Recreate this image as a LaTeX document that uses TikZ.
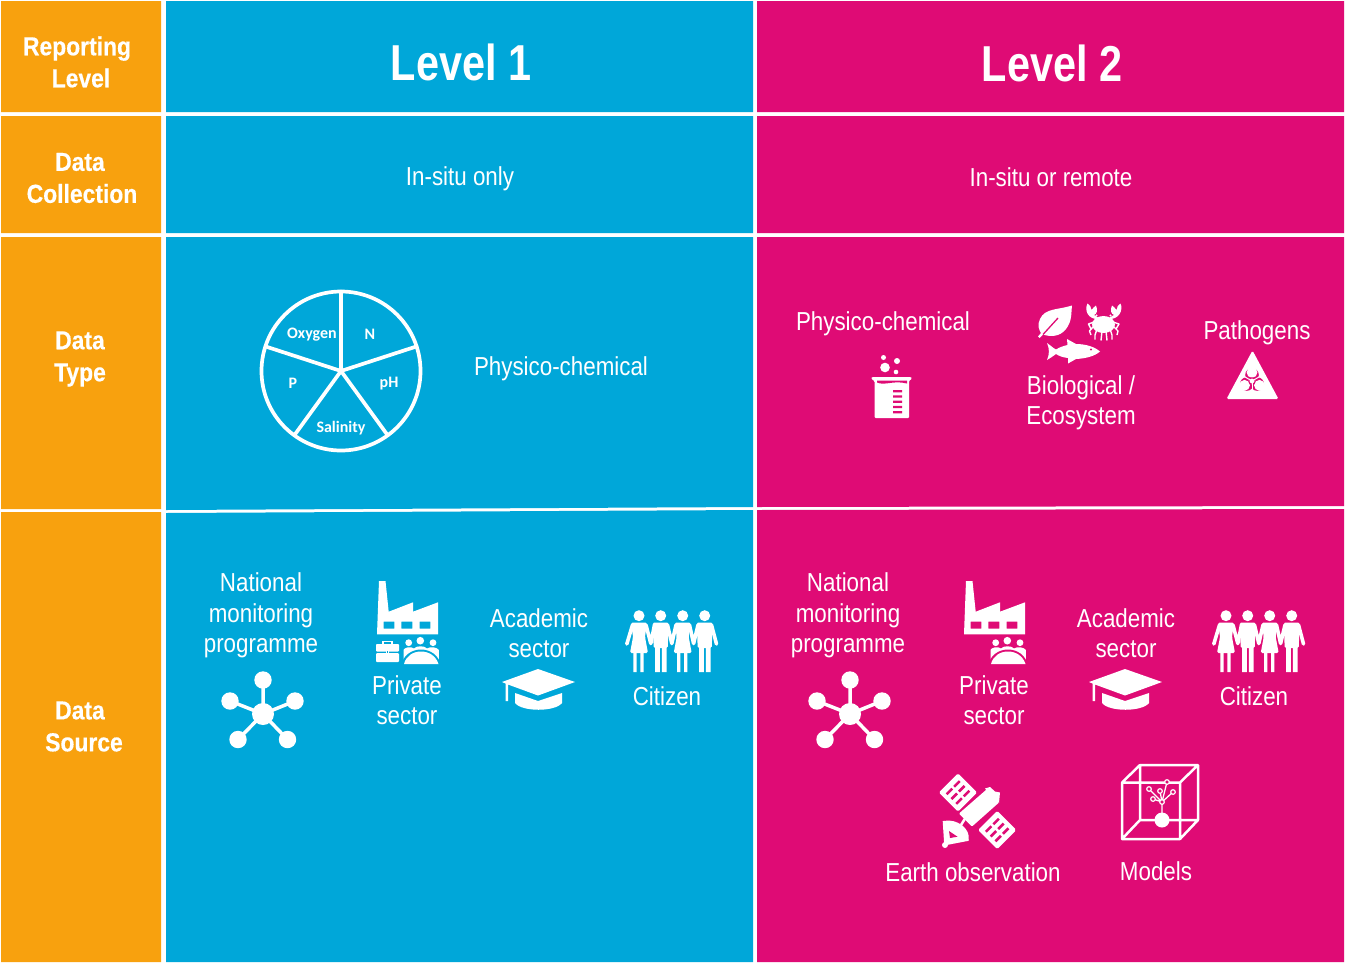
\documentclass[tikz,border=0pt]{standalone}
\usepackage{fontspec}
\setmainfont[FakeStretch=0.86]{Liberation Sans}
\newfontfamily\sidefont[FakeStretch=0.88,FakeBold=0.4]{Liberation Sans}
\newfontfamily\headfont[FakeStretch=0.82]{Liberation Sans}
\newfontfamily\piefont{Carlito}
\definecolor{orangec}{RGB}{248,161,14}
\definecolor{bluec}{RGB}{0,167,217}
\definecolor{pinkc}{RGB}{223,11,117}
\colorlet{bgc}{bluec}
\tikzset{
  side/.style={font=\sidefont\bfseries\fontsize{26}{32}\selectfont,text=white,align=center,inner sep=0pt},
  head/.style={font=\headfont\bfseries\fontsize{50.5}{60}\selectfont,text=white,align=center,inner sep=0pt},
  body/.style={font=\fontsize{26}{30.5}\selectfont,text=white,align=center,inner sep=0pt},
  pielab/.style={font=\piefont\bfseries\fontsize{16}{18}\selectfont,text=white,inner sep=0pt},
  net/.pic={
    \draw[white,line width=3.5pt] (263,714)--(263,680) (263,714)--(230,701) (263,714)--(295,701) (263,714)--(238,739.5) (263,714)--(287.5,739.5);
    \fill[white] (263,714) circle (11) (263,680) circle (8.7) (230,701) circle (8.7) (295,701) circle (8.7) (238,739.5) circle (8.7) (287.5,739.5) circle (8.7);
  },
  factory/.pic={
    \fill[white,even odd rule] (379,581)--(385.5,581)--(388.7,611.7)--(413,602.3)--(413,611.7)--(438,602.3)--(438,634.3)--(377,634.3)--cycle
      (383.7,621.5) rectangle (394.3,628.5) (401.3,621.5) rectangle (412.3,628.5) (419.7,621.5) rectangle (430.3,628.5);
  },
  meeting/.pic={
    \fill[white] (408.7,642.7) circle (3.4) (420.3,640.7) circle (3.8) (433,642.7) circle (3.4);
    \fill[white] (403.5,660)--(403.5,650) .. controls (404,647.5) and (411,646) .. (414,648.5) .. controls (416,645.5) and (425,645.5) .. (427,648.5) .. controls (430,646) and (438,647.5) .. (438.8,650)--(438.8,660)--cycle;
    \fill[bgc] (401,666) .. controls (403,655) and (412,649.5) .. (421,649.5) .. controls (430,649.5) and (439,655) .. (441,666)--cycle;
    \fill[white] (404,664) .. controls (406,656) and (413,651.5) .. (421,651.5) .. controls (429,651.5) and (436,656) .. (438.5,664)--cycle;
  },
  briefcase/.pic={
    \draw[white,line width=1.4pt] (383,644.5)--(383,641.5)--(392,641.5)--(392,644.5);
    \fill[white,rounded corners=0.8pt] (376,644)--(399,644)--(399,651.5)--(376,651.5)--cycle;
    \fill[white,rounded corners=0.8pt] (376,653.2)--(399,653.2)--(399,662)--(376,662)--cycle;
    \fill[white] (386,650) rectangle (389,654.5);
    \fill[bgc] (387,651.4) rectangle (388,653.2);
  },
  gradcap/.pic={
    \fill[white] (515,693)--(538,701)--(562,693)--(562,703) .. controls (555,712) and (522,712) .. (515,703)--cycle;
    \fill[white] (538,669)--(575,682)--(538,695.5)--(508,684.5)--(508,701)--(505.5,701)--(505.5,683.5)--(502,682)--cycle;
  },
  female/.pic={
    \fill[white] (0,615.7) circle (5.5);
    \fill[white,rounded corners=1.5pt] (-8,622.5)--(8,622.5)--(6,637)--(9,653)--(-9,653)--(-6,637)--cycle;
    \fill[white] (-5.7,652) rectangle (-2.3,672) (1.3,652) rectangle (4.7,672);
  },
  male/.pic={
    \fill[white] (0,615.7) circle (5.5);
    \fill[white,rounded corners=1.5pt] (-8,622.5)--(8,622.5)--(7,648)--(-7,648)--cycle;
    \fill[white] (-5.5,645) rectangle (-0.8,672) (1.2,645) rectangle (6,672);
  },
  citizens/.pic={
    \pic at (639,0) {female};
    \pic at (660.7,0) {male};
    \pic at (682.7,0) {female};
    \pic at (704.7,0) {male};
    \draw[white,line width=3.6pt,line cap=round,line join=round]
      (632.5,625)--(626.8,644) (646,625)--(650.8,643.5)--(654.5,625)
      (667.5,625)--(671.8,643.5)--(676,625) (689.5,625)--(693.6,643.5)--(698,625)
      (711.5,625)--(716.5,644);
  },
}
\begin{document}
\begin{tikzpicture}[x=1pt,y=-1pt]
\useasboundingbox (0,0) rectangle (1345,962);
\fill[white] (0,0) rectangle (1345,962);
% side column
\fill[orangec] (1,1) rectangle (161,112) (1,116) rectangle (161,233) (1,237) rectangle (161,509) (1,512) rectangle (161,962);
% level 1
\fill[bluec] (166,1) rectangle (753,112) (166,116) rectangle (753,233) (166,237)--(753,237)--(753,507)--(166,510)--cycle (166,513)--(753,510)--(753,962)--(166,962)--cycle;
% level 2
\fill[pinkc] (757,1) rectangle (1344,112) (757,116) rectangle (1344,233) (757,237)--(1344,237)--(1344,506)--(757,507)--cycle (757,510)--(1344,509)--(1344,962)--(757,962)--cycle;

\node[side] (t1) at (81,62) {Reporting\hspace*{8pt}\\Level};
\node[side] (t2) at (82,178) {Data\hspace*{4pt}\\Collection};
\node[side] (t3) at (80,359) {Data\\Type};
\node[side] (t4) at (84,726.5) {Data\hspace*{8pt}\\Source};
\node[head] (l1) at (461,62.5) {Level 1};
\node[head] (l2) at (1052,63) {Level 2};
\node[body] (c1) at (460,179) {In-situ only};
\node[body] (c2) at (1051,177.5) {In-situ or remote};

% pie
\draw[white,line width=3.7pt] (341,371) circle (79.5);
\draw[white,line width=3.7pt,line cap=round] (341,371)--++(0,-79.5) (341,371)--++(75.6,-24.6) (341,371)--++(46.7,64.3) (341,371)--++(-46.7,64.3) (341,371)--++(-75.6,-24.6);
\node[pielab] (p1) at (312,335) {Oxygen};
\node[pielab] (p2) at (370,334) {N};
\node[pielab] (p3) at (389,384) {pH};
\node[pielab] (p4) at (293,383) {P};
\node[pielab] (p5) at (341,428) {Salinity};
\node[body] (d1) at (561,369) {Physico-chemical};

% level 2 data type
\node[body] (d2) at (883,324) {Physico-chemical};
\node[body] (d3) at (1081,403) {Biological /\\Ecosystem};
\node[body] (d4) at (1257,333) {Pathogens};
% beaker
\fill[white] (885,367.5) circle (4.8) (897,361) circle (3) (883.5,357.5) circle (2.5) (896,372) circle (2.3);
\fill[white,rounded corners=1pt] (871,378.5)--(872,377)--(911,377)--(912,378.5)--(909,381)--(909,418)--(874.5,418)--(874.5,381)--cycle;
\fill[pinkc] (877,382.5) .. controls (885,386) and (893,380) .. (907,383.5)--(907,380.5)--(877,380.5)--cycle;
\fill[pinkc] (893,390) rectangle (902,392.3) (893,395.3) rectangle (902,397.6) (893,400.6) rectangle (902,402.9) (893,405.9) rectangle (902,408.2) (893,411) rectangle (902,413.3);
% leaf
\fill[white] (1072,305.5) .. controls (1058,310) and (1045,308) .. (1040,319) .. controls (1037,325) and (1039,330) .. (1041,333) -- (1038,336.5)--(1039.5,338)--(1043,334.5) .. controls (1050,337) and (1060,337) .. (1066,329) .. controls (1072,321) and (1071,315) .. (1072,305.5)--cycle;
\draw[pinkc,line width=1.3pt] (1043,334.5)--(1058,318);
% crab
\fill[white] (1103.5,324.5) ellipse (11.5 and 8.5);
\fill[white] (1096.5,315.5) circle (1.2) (1110.5,315.5) circle (1.2);
\fill[white] (1099,319) ..controls (1088,320) and (1084,310) .. (1087.5,303.5) .. controls (1089.5,305) and (1091.5,307) .. (1091.5,310) .. controls (1093,308) and (1094.5,306.5) .. (1096,305.5) .. controls (1098,310) and (1097,314) .. (1094,315) .. controls (1095,316) and (1097,316) .. (1099,319)--cycle;
\fill[white] (1108,319) ..controls (1119,320) and (1123.5,310) .. (1120.5,303.5) .. controls (1118.5,305) and (1116.5,307) .. (1116.5,310) .. controls (1115,308) and (1113.5,306.5) .. (1112,305.5) .. controls (1110,310) and (1111,314) .. (1114,315) .. controls (1113,316) and (1111,316) .. (1108,319)--cycle;
\draw[white,line width=1.4pt,line join=round] (1094,322)--(1088.5,324)--(1091,329) (1094,326)--(1089.5,331)--(1091,335) (1097,329)--(1095,335)--(1095,339.5) (1102,331)--(1101,340.5) (1113,322)--(1119,324)--(1116,329) (1113,326)--(1118,331)--(1117,335) (1110,329)--(1112,335)--(1112,339.5) (1106,331)--(1107,340.5);
% fish
\fill[white] (1047,343) .. controls (1050,345) and (1053,348) .. (1056,349.5) .. controls (1059,347.5) and (1063,346) .. (1067.5,345) -- (1067,339) -- (1076,344) .. controls (1086,344) and (1095,347) .. (1100,351.5) .. controls (1095,356) and (1086,358.5) .. (1076,359) -- (1068,363.5) -- (1068,358) .. controls (1063,357.5) and (1059,356) .. (1056,354) .. controls (1053,356) and (1050,358.5) .. (1047,360) .. controls (1049.5,355) and (1049.5,348) .. (1047,343) -- cycle;
\fill[pinkc] (1091,349.5) circle (1.1);
% biohazard
\fill[white,rounded corners=1.5pt] (1252.5,350.5)--(1278.5,399)--(1226.5,399)--cycle;
\foreach \a in {90,210,330}{\fill[pinkc] (1252,381)++({cos(\a)*6},{-sin(\a)*6}) circle (6.8);}
\foreach \a in {90,210,330}{\fill[white] (1252,381)++({cos(\a)*8.6},{-sin(\a)*8.6}) circle (5.4);}
\fill[white] (1252,381) circle (3.6);
\draw[pinkc,line width=1.1pt] (1252,381) circle (3.2);
\foreach \a in {30,150,270}{\draw[white,line width=1pt] (1252,381)--++({cos(\a)*9},{-sin(\a)*9});}

% level 1 data sources
\begin{scope}
\colorlet{bgc}{bluec}
\node[body] (s1) at (261,615.5) {National\\monitoring\\programme};
\node[body] (s2) at (407,700) {Private\\sector};
\node[body] (s3) at (539,633) {Academic\\sector};
\node[body] (s4) at (667,696) {Citizen};
\pic {net}; \pic {factory}; \pic {meeting}; \pic {briefcase}; \pic {gradcap}; \pic {citizens};
\end{scope}
% level 2 data sources
\begin{scope}
\colorlet{bgc}{pinkc}
\node[body] (s5) at (848,615.5) {National\\monitoring\\programme};
\node[body] (s6) at (994,700) {Private\\sector};
\node[body] (s7) at (1126,633) {Academic\\sector};
\node[body] (s8) at (1254,696) {Citizen};
\begin{scope}[shift={(587,0)}]
\pic {net}; \pic {factory}; \pic {meeting}; \pic {gradcap}; \pic {citizens};
\end{scope}
\end{scope}
\node[body] (s9) at (973,872.5) {Earth observation};
\node[body] (s10) at (1156,871.5) {Models};

% satellite
\foreach \cx/\cy in {958/792.5,997.2/830}{
  \begin{scope}[shift={(\cx,\cy)},rotate=45]
    \fill[white,rounded corners=1.5pt] (-13.5,-13.5) rectangle (13.5,13.5);
    \foreach \i in {-1,1}{\foreach \j in {-6.8,0,6.8}{
      \fill[pinkc] ({\i*5.3-3.9},{\j-1.3}) rectangle ({\i*5.3+3.9},{\j+1.3});
    }}
  \end{scope}
}
\fill[white,rounded corners=1pt] (986.5,789.5)--(999,802.5)--(972,826.5)--(959,813.5)--cycle;
\fill[white] (985,788.5)--(990,787)--(995,791.5)--(1000,792.5)--(999,803)--cycle;
\draw[white,line width=2.5pt] (961,825)--(966,817);
\fill[white] (943.5,821) .. controls (957,818) and (971,829) .. (968.5,840) -- (945,844.5) -- cycle;
\draw[white,line width=1.6pt,line join=round] (943.5,821)--(945,844.5)--(968.5,840);
\fill[white] (945,845) circle (3);
\fill[pinkc] (949,831) -- (957.5,836.7) -- (950,838) -- cycle;

% cube
\draw[white,line width=2.5pt,line join=round] (1122,782.5) rectangle (1180,839) (1140,765) rectangle (1198,820) (1122,782.5)--(1140,765) (1180,782.5)--(1198,765) (1122,839)--(1140,820) (1180,839)--(1198,820);
\fill[white] (1162,820) circle (7.5);
\draw[white,line width=1.3pt] (1162,820)--(1162,802) (1162,802)--(1153,799) (1162,802)--(1160,791) (1162,802)--(1167,782) (1162,802)--(1173,792) (1162,802)--(1149,789);
\draw[white,line width=1.2pt,fill=pinkc] (1149,789) circle (2.3) (1153,799) circle (2.3) (1160,791) circle (2.3) (1167,782) circle (2.3) (1173,792) circle (2.3) (1162,802) circle (2.3);
\end{tikzpicture}
\end{document}
